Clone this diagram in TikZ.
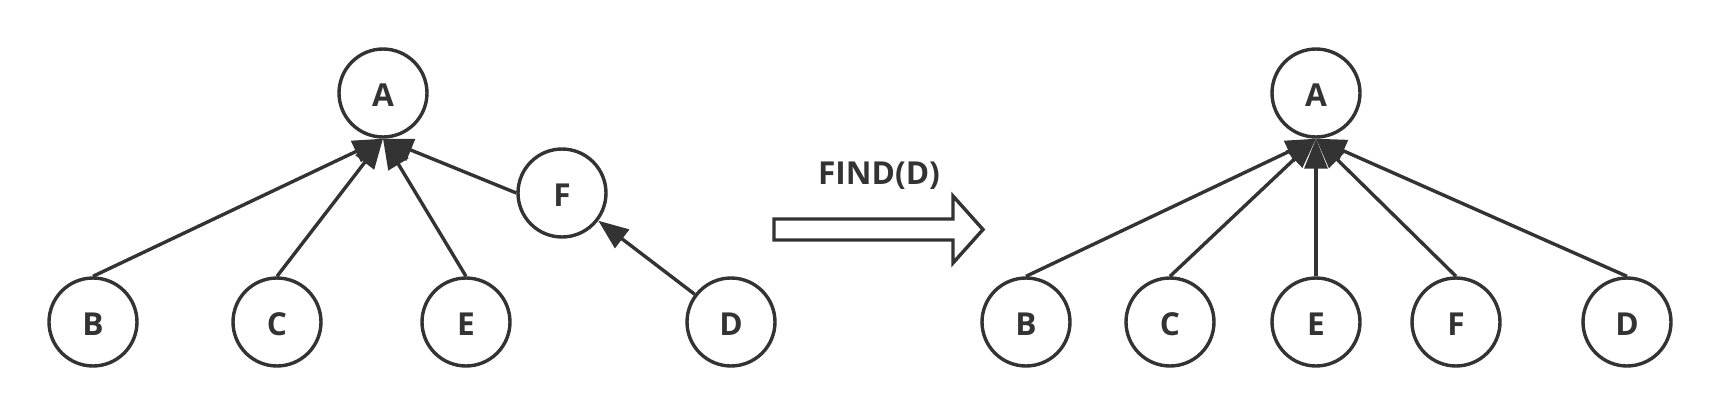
\documentclass[tikz,border=0pt]{standalone}
\usepackage{fontspec}
\setmainfont{Open Sans}
\usepackage{xcolor}
\usepackage{tikz}
\usetikzlibrary{arrows.meta}

\definecolor{ink}{HTML}{333333}

\begin{document}
\begin{tikzpicture}[
    x=0.02cm, y=-0.02cm,
    vertex/.style={circle, draw=ink, line width=0.068cm, minimum size=1.76cm, inner sep=0pt, text height=0.54cm, font=\fontsize{18}{20}\selectfont\bfseries, text=ink},
    arrow/.style={-{Triangle[length=0.6cm, width=0.46cm]}, draw=ink, line width=0.068cm},
    label/.style={font=\fontsize{18}{20}\selectfont\bfseries, text=ink}
]
\useasboundingbox (0,0) rectangle (1722,416);

% Left tree
\node[vertex] (la) at (383,93) {A};
\node[vertex] (lf) at (562,193) {F};
\node[vertex] (lb) at (93,322) {B};
\node[vertex] (lc) at (277,322) {C};
\node[vertex] (le) at (466,322) {E};
\node[vertex] (ld) at (731,322) {D};

\draw[arrow] (lb.north) -- (la.south);
\draw[arrow] (lc.north) -- (la.south);
\draw[arrow] (le.north) -- (la.south);
\draw[arrow] (lf.west) -- (la.south);
\draw[arrow] (ld) -- (lf);

% Operation
\node[label] (find) at (879,176) {FIND(D)};
\draw[draw=ink, line width=0.068cm, line join=miter]
  (774,219) -- (953,219) -- (953,196) -- (983,229.5) -- (953,263) -- (953,240) -- (774,240) -- cycle;

% Right tree
\node[vertex] (ra) at (1316,93) {A};
\node[vertex] (rb) at (1026,322) {B};
\node[vertex] (rc) at (1170,322) {C};
\node[vertex] (re) at (1316,322) {E};
\node[vertex] (rf) at (1456,322) {F};
\node[vertex] (rd) at (1627,322) {D};

\foreach \n in {rb,rc,re,rf,rd}
  \draw[arrow] (\n.north) -- (ra.south);

\end{tikzpicture}
\end{document}
